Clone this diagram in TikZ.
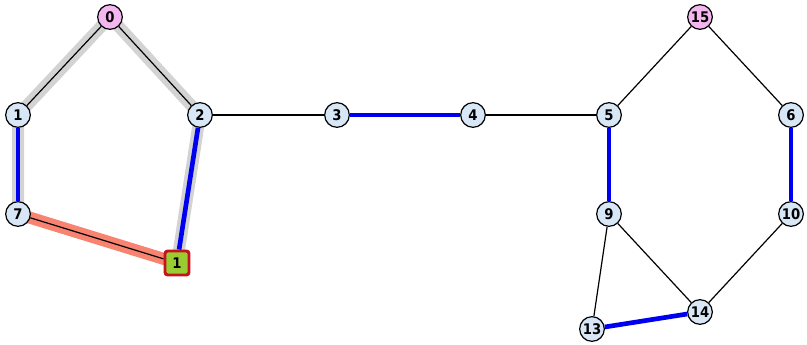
\documentclass[tikz,border=0pt]{standalone}
\usepackage{fontspec}
\setsansfont{DejaVu Sans Condensed}
\definecolor{vfill}{HTML}{D8E7F6}
\definecolor{rootfill}{HTML}{F4B6EE}
\definecolor{curfill}{HTML}{99CC33}
\definecolor{curdraw}{HTML}{C4121E}
\definecolor{pathblue}{HTML}{0000F0}
\definecolor{halo}{HTML}{D3D3D3}
\definecolor{salmon}{HTML}{F88370}
\tikzset{
  vtx/.style={circle,draw=black,fill=vfill,line width=0.9pt,minimum size=18.5pt,inner sep=0pt},
  root/.style={vtx,fill=rootfill},
  cur/.style={rectangle,rounded corners=2pt,draw=curdraw,fill=curfill,line width=2.2pt,minimum size=18pt,inner sep=0pt},
  tree/.style={draw=black,line width=0.9pt},
  match/.style={draw=pathblue,line width=3.5pt},
  shade/.style={draw=halo,line width=9pt},
  stem/.style={draw=salmon,line width=9pt}
}
\begin{document}
\begin{tikzpicture}[x=0.75pt,y=-0.75pt,font=\sffamily\bfseries\fontsize{11}{12}\selectfont]
  \path[fill=white,use as bounding box] (0,0) rectangle (807,345);

  % highlighted blossom and stem
  \path[shade] (110,17) -- (18,115) -- (18,214);
  \path[shade] (110,17) -- (200,115) -- (177,263);
  \path[stem] (18,214) -- (177,263);

  \node[root] (v0) at (110,17) {0};
  \node[vtx] (v1) at (18,115) {1};
  \node[vtx] (v2) at (200,115) {2};
  \node[vtx] (v3) at (337,115) {3};
  \node[vtx] (v4) at (473,115) {4};
  \node[vtx] (v5) at (609,115) {5};
  \node[root] (v15) at (700,17) {15};
  \node[vtx] (v6) at (791,115) {6};
  \node[vtx] (v7) at (18,214) {7};
  \node[vtx] (v9) at (609,214) {9};
  \node[vtx] (v10) at (791,214) {10};
  \node[vtx] (v13) at (592,329) {13};
  \node[vtx] (v14) at (700,312) {14};
  \node[cur] (c1) at (177,263) {1};

  % tree edges
  \path[tree] (v0) -- (v1);
  \path[tree] (v0) -- (v2);
  \path[tree] (v7) -- (c1);
  \path[tree] (v2) -- (v3);
  \path[tree] (v4) -- (v5);
  \path[tree] (v5) -- (v15);
  \path[tree] (v15) -- (v6);
  \path[tree] (v9) -- (v13);
  \path[tree] (v9) -- (v14);
  \path[tree] (v10) -- (v14);
  % matching
  \path[match] (v1) -- (v7);
  \path[match] (v2) -- (c1);
  \path[match] (v3) -- (v4);
  \path[match] (v5) -- (v9);
  \path[match] (v6) -- (v10);
  \path[match] (v13) -- (v14);
\end{tikzpicture}
\end{document}
